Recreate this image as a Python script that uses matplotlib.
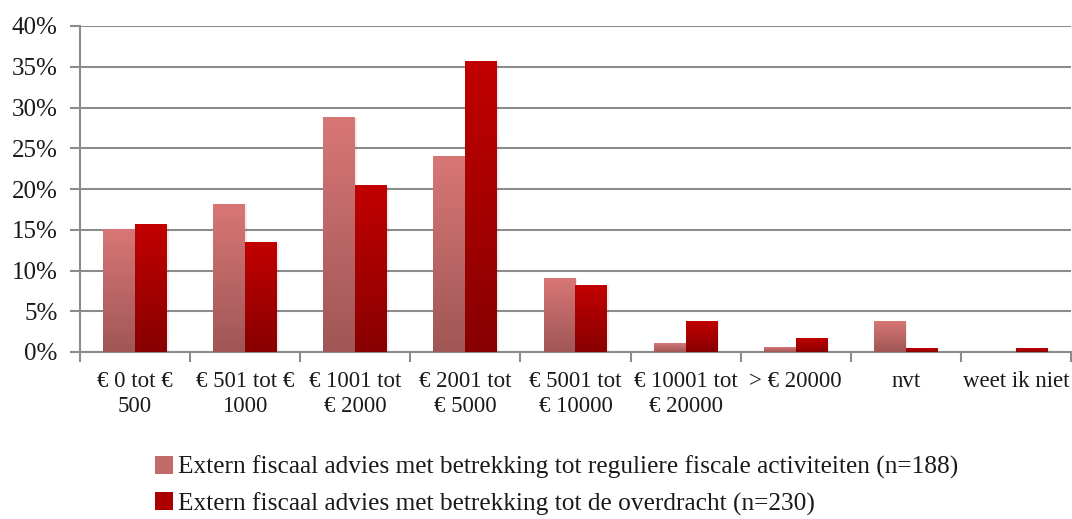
import matplotlib.pyplot as plt
import numpy as np
from matplotlib.colors import LinearSegmentedColormap
from matplotlib.patches import Patch

plt.rcParams["font.family"] = ["Liberation Serif", "DejaVu Serif"]

categories = ["€ 0 tot €\n500", "€ 501 tot €\n1000", "€ 1001 tot\n€ 2000",
              "€ 2001 tot\n€ 5000", "€ 5001 tot\n€ 10000", "€ 10001 tot\n€ 20000",
              "> € 20000", "nvt", "weet ik niet"]
regulier = [15.0, 18.1, 28.8, 24.0, 9.0, 1.0, 0.5, 3.7, 0.0]
overdracht = [15.6, 13.4, 20.4, 35.7, 8.2, 3.8, 1.6, 0.4, 0.4]
labels = ["Extern fiscaal advies met betrekking tot reguliere fiscale activiteiten (n=188)",
          "Extern fiscaal advies met betrekking tot de overdracht (n=230)"]

cmap_light = LinearSegmentedColormap.from_list("light", ["#D87676", "#A05656"])
cmap_dark = LinearSegmentedColormap.from_list("dark", ["#C20000", "#880000"])

fig = plt.figure(figsize=(10.72, 5.19), dpi=100)
ax = fig.add_axes([80 / 1072, 1 - 352 / 519, 991 / 1072, 326 / 519])

x = np.arange(len(categories))
w = 0.29
grad = np.linspace(0, 1, 256).reshape(-1, 1)


def gradient_bars(xs, vals, cmap):
    bars = ax.bar(xs, vals, w, color="none", edgecolor="none", zorder=3)
    for b in bars:
        x0, y0 = b.get_x(), b.get_y()
        x1, y1 = x0 + b.get_width(), y0 + b.get_height()
        if y1 <= y0:
            continue
        # top of the bar is light, bottom dark
        ax.imshow(grad, cmap=cmap, extent=(x0, x1, y0, y1), origin="upper",
                  aspect="auto", zorder=3)
        # soft shadow to the right
        ax.add_patch(plt.Rectangle((x0 + 0.015, y0), x1 - x0, y1 - y0 - 0.1,
                                   facecolor="#000000", edgecolor="none",
                                   alpha=0.07, zorder=2))


gradient_bars(x - w / 2, regulier, cmap_light)
gradient_bars(x + w / 2, overdracht, cmap_dark)

ax.set_xlim(-0.5, len(categories) - 0.5)
ax.set_ylim(0, 40)
ax.set_yticks(range(0, 41, 5))
ax.set_yticklabels([f"{v}%" for v in range(0, 41, 5)])
ax.set_xticks(x)
ax.set_xticklabels(categories, linespacing=1.2)
ax.set_xticks(np.arange(-0.5, len(categories), 1), minor=True)

ax.grid(axis="y", color="#8c8c8c", lw=1.5, zorder=1)
for s in ["top", "right"]:
    ax.spines[s].set_visible(False)
for s in ["left", "bottom"]:
    ax.spines[s].set_color("#8c8c8c")
    ax.spines[s].set_linewidth(1.5)

ax.tick_params(axis="y", length=7, width=1.5, color="#8c8c8c", labelsize=18,
               pad=9, labelcolor="#1a1a1a")
ax.tick_params(axis="x", which="major", length=0, labelsize=16.5, pad=14,
               labelcolor="#1a1a1a")
ax.tick_params(axis="x", which="minor", length=7, width=1.5, color="#8c8c8c")

handles = [Patch(facecolor="#C06a6a"), Patch(facecolor="#AA0000")]
fig.legend(handles, labels, loc="upper left", bbox_to_anchor=(155 / 1072, 1 - 456 / 519),
           frameon=False, fontsize=18.3, handlelength=0.7, handleheight=0.7,
           handletextpad=0.2, labelspacing=0.5, borderaxespad=0, borderpad=0,
           labelcolor="#1a1a1a")

fig.savefig("out.png", dpi=100)
